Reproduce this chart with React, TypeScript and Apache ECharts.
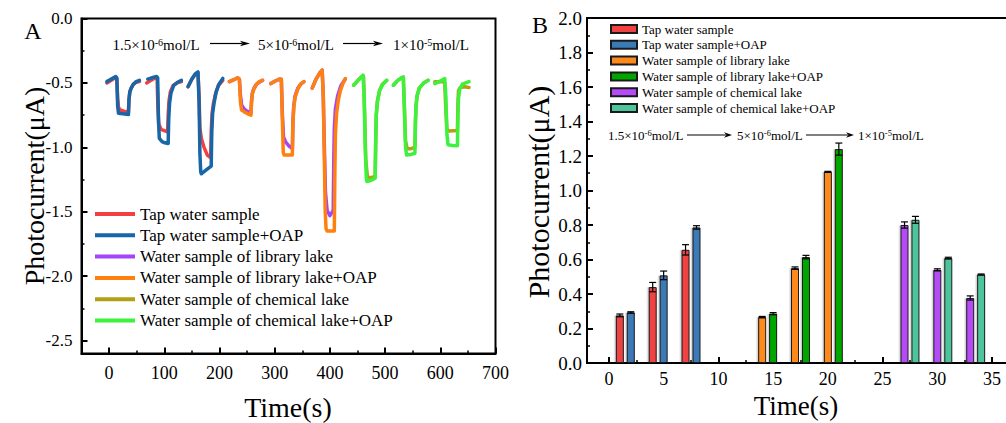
import React, { useEffect, useRef } from "react";
import * as echarts from "echarts";

const FONT = "Liberation Serif";

// ---------- Panel A: photocurrent transients ----------
const namesA = [
  "Tap water sample",
  "Tap water sample+OAP",
  "Water sample of library lake",
  "Water sample of library lake+OAP",
  "Water sample of chemical lake",
  "Water sample of chemical lake+OAP",
];
const colorsA = ["#F23F3F", "#1766A8", "#A445F7", "#FF7F0F", "#B3A115", "#3CF23C"];

const tapWater = [
  [[-4, -0.5], [4, -0.48], [11, -0.46], [14, -0.47], [15.5, -0.62], [17, -0.69], [20, -0.71], [27, -0.72], [35, -0.73], [36, -0.63], [37.5, -0.57], [40, -0.54], [44, -0.51], [49, -0.495], [55, -0.49]],
  [[68, -0.5], [76, -0.48], [84, -0.46], [87, -0.47], [88.5, -0.7], [90, -0.82], [94, -0.86], [100, -0.87], [106, -0.88], [107, -0.75], [108.5, -0.64], [111, -0.57], [116, -0.52], [123, -0.5], [131, -0.49]],
  [[143, -0.53], [150, -0.47], [157, -0.43], [161, -0.42], [163, -0.6], [164.5, -0.85], [167, -0.93], [172, -1.0], [178, -1.06], [184, -1.08], [185, -0.88], [186.5, -0.74], [189, -0.66], [193, -0.58], [198, -0.52], [206, -0.48]],
];
const tapWaterOAP = [
  [[-4, -0.49], [4, -0.47], [12, -0.45], [14, -0.46], [15.5, -0.68], [17, -0.735], [25, -0.74], [35, -0.745], [36, -0.63], [37.5, -0.57], [40, -0.54], [44, -0.51], [49, -0.49], [55, -0.48]],
  [[70, -0.47], [78, -0.46], [86, -0.45], [88, -0.46], [89.5, -0.8], [91, -0.93], [96, -0.955], [101, -0.965], [107, -0.97], [108, -0.78], [109.5, -0.66], [112, -0.58], [117, -0.52], [124, -0.495], [131, -0.48]],
  [[143, -0.53], [150, -0.47], [156, -0.43], [161, -0.415], [163, -0.65], [164.5, -1.05], [166, -1.19], [167, -1.205], [176, -1.175], [185, -1.145], [186, -0.88], [187.5, -0.74], [190, -0.66], [194, -0.57], [199, -0.51], [206, -0.465]],
];
const libraryLake = [
  [[218, -0.49], [226, -0.475], [233, -0.46], [236, -0.47], [238, -0.6], [240, -0.67], [244, -0.7], [250, -0.72], [257, -0.73], [258, -0.64], [259.5, -0.58], [262, -0.545], [267, -0.51], [272, -0.495], [278, -0.48]],
  [[293, -0.505], [301, -0.485], [309, -0.47], [312, -0.475], [314, -0.75], [316, -0.92], [320, -0.96], [326, -0.99], [332, -1.01], [333, -0.8], [334.5, -0.68], [337, -0.6], [342, -0.54], [347, -0.51], [353, -0.49]],
  [[368, -0.54], [375, -0.47], [382, -0.42], [386, -0.4], [388, -0.6], [390, -1.0], [392, -1.35], [395, -1.49], [400, -1.53], [406, -1.49], [407, -1.1], [408, -0.85], [410, -0.7], [414, -0.6], [420, -0.52], [428, -0.47]],
];
const libraryLakeOAP = [
  [[218, -0.49], [226, -0.475], [233, -0.46], [236, -0.47], [238, -0.65], [240, -0.71], [245, -0.725], [251, -0.74], [257, -0.75], [258, -0.65], [259.5, -0.585], [262, -0.55], [267, -0.51], [272, -0.49], [278, -0.48]],
  [[293, -0.505], [301, -0.485], [309, -0.47], [312, -0.47], [314, -0.8], [315.5, -1.04], [317, -1.06], [332, -1.06], [333, -0.82], [334.5, -0.69], [337, -0.61], [342, -0.545], [347, -0.51], [353, -0.49]],
  [[368, -0.54], [375, -0.47], [382, -0.42], [386, -0.4], [388, -0.6], [390, -1.1], [391.5, -1.5], [393, -1.63], [395, -1.65], [408, -1.65], [409, -1.2], [410, -0.9], [412, -0.74], [415, -0.64], [419, -0.56], [424, -0.5], [428, -0.466]],
];
const chemicalLake = [
  [[443, -0.518], [451, -0.48], [458, -0.45], [461, -0.45], [463, -0.75], [465, -1.1], [468, -1.23], [474, -1.235], [482, -1.225], [483, -0.95], [484, -0.75], [486, -0.64], [490, -0.56], [495, -0.51], [503, -0.48]],
  [[515, -0.518], [523, -0.48], [530, -0.46], [533, -0.455], [535, -0.7], [537, -0.95], [540, -1.01], [547, -1.01], [554, -1.0], [555, -0.8], [556, -0.68], [558, -0.6], [562, -0.54], [570, -0.5], [578, -0.48]],
  [[590, -0.49], [598, -0.49], [606, -0.49], [608, -0.5], [610, -0.7], [612, -0.86], [616, -0.873], [624, -0.871], [631, -0.87], [632, -0.65], [633, -0.56], [636, -0.535], [644, -0.53], [652, -0.535]],
];
const chemicalLakeOAP = [
  [[443, -0.518], [451, -0.48], [458, -0.45], [460, -0.44], [462, -0.6], [464, -1.0], [466, -1.24], [467, -1.265], [475, -1.255], [482, -1.24], [483, -0.95], [484, -0.75], [486, -0.65], [490, -0.56], [496, -0.51], [503, -0.48]],
  [[515, -0.518], [523, -0.48], [530, -0.46], [533, -0.454], [535, -0.7], [537, -1.0], [539, -1.06], [547, -1.055], [554, -1.046], [555, -0.8], [556, -0.68], [558, -0.6], [562, -0.54], [570, -0.5], [578, -0.48]],
  [[590, -0.505], [598, -0.49], [604, -0.475], [608, -0.466], [610, -0.6], [612, -0.9], [614, -0.98], [622, -0.985], [631, -0.987], [632, -0.75], [633, -0.62], [635, -0.55], [640, -0.51], [646, -0.5], [652, -0.49]],
];
const dataA = [tapWater, tapWaterOAP, libraryLake, libraryLakeOAP, chemicalLake, chemicalLakeOAP];

const xTicksA = [0, 100, 200, 300, 400, 500, 600, 700];
const xMinorA = [50, 150, 250, 350, 450, 550, 650];
const yTicksA = [0, -0.5, -1.0, -1.5, -2.0, -2.5];
const yMinorA = [-0.25, -0.75, -1.25, -1.75, -2.25];

// ---------- Panel B: bar chart ----------
const namesB = namesA;
const colorsB = ["#F04242", "#3A7AB7", "#FF8A1C", "#00A600", "#B54BF7", "#4DC49B"];
const positionsB = [
  [1, 4, 7],
  [2, 5, 8],
  [14, 17, 20],
  [15, 18, 21],
  [27, 30, 33],
  [28, 31, 34],
];
const valuesB = [
  [0.276, 0.44, 0.656],
  [0.293, 0.508, 0.786],
  [0.266, 0.55, 1.108],
  [0.286, 0.614, 1.24],
  [0.8, 0.54, 0.377],
  [0.83, 0.608, 0.513],
];
const errorsB = [
  [0.008, 0.027, 0.03],
  [0.004, 0.025, 0.01],
  [0.004, 0.007, 0.003],
  [0.006, 0.01, 0.035],
  [0.018, 0.006, 0.012],
  [0.02, 0.005, 0.003],
];
const xTicksB = [0, 5, 10, 15, 20, 25, 30, 35];
const xMinorB = [2.5, 7.5, 12.5, 17.5, 22.5, 27.5, 32.5];

// ---------- helpers ----------
const txt = (x: number, y: number, text: string, size: number, extra: any = {}) => ({
  type: "text",
  x,
  y,
  silent: true,
  ...extra,
  style: {
    text,
    fontSize: size,
    fontFamily: FONT,
    fill: "#000",
    align: "center",
    verticalAlign: "middle",
    textAlign: "center",
    textVerticalAlign: "middle",
    ...(extra.style || {}),
  },
});

const conc = (x: number, y: number, base: string, sup: string, size: number, supSize: number) => ({
  type: "text",
  x,
  y,
  silent: true,
  style: {
    text: base + "{s|" + sup + "}mol/L",
    fontSize: size,
    fontFamily: FONT,
    fill: "#000",
    align: "left",
    verticalAlign: "middle",
    textAlign: "left",
    textVerticalAlign: "middle",
    rich: {
      s: { fontSize: supSize, fontFamily: FONT, fill: "#000", verticalAlign: "top" },
    },
  },
});

const arrow = (x1: number, x2: number, y: number, head: number) => [
  { type: "line", silent: true, shape: { x1, y1: y, x2: x2 - head + 2, y2: y }, style: { stroke: "#000", lineWidth: 1.2 } },
  {
    type: "polygon",
    silent: true,
    shape: { points: [[x2, y], [x2 - head, y - 2.8], [x2 - head + 2.5, y], [x2 - head, y + 2.8]] },
    style: { fill: "#000" },
  },
];

const axisBase = (extra: any) => ({
  type: "value",
  splitLine: { show: false },
  ...extra,
});

function buildOptionA(): any {
  const series: any[] = [];
  namesA.forEach((name, i) => {
    dataA[i].forEach((pulse) => {
      series.push({
        type: "line",
        name,
        data: pulse,
        xAxisIndex: 0,
        yAxisIndex: 0,
        symbol: "none",
        showSymbol: false,
        silent: true,
        lineStyle: { width: 3.5, color: colorsA[i], cap: "round", join: "round" },
        itemStyle: { color: colorsA[i] },
      });
    });
  });
  return {
    animation: false,
    grid: { left: 81.5, top: 18.5, width: 414, height: 335, show: true, borderColor: "#000", borderWidth: 2 },
    xAxis: [
      axisBase({
        min: -50,
        max: 700,
        position: "bottom",
        axisLine: { show: true, onZero: false, lineStyle: { color: "#000", width: 2 } },
        axisTick: { show: true, inside: true, length: 6, customValues: xTicksA, lineStyle: { color: "#000", width: 2 } },
        axisLabel: { customValues: xTicksA, fontSize: 18, fontFamily: FONT, color: "#000", margin: 10 },
      }),
      axisBase({
        min: -50,
        max: 700,
        position: "bottom",
        axisLine: { show: false, onZero: false },
        axisTick: { show: true, inside: true, length: 3, customValues: xMinorA, lineStyle: { color: "#000", width: 1.5 } },
        axisLabel: { show: false },
      }),
    ],
    yAxis: [
      axisBase({
        min: -2.6,
        max: 0,
        position: "left",
        axisLine: { show: true, onZero: false, lineStyle: { color: "#000", width: 2 } },
        axisTick: { show: true, inside: true, length: 6, customValues: yTicksA, lineStyle: { color: "#000", width: 2 } },
        axisLabel: {
          customValues: yTicksA,
          formatter: (v: number) => v.toFixed(1),
          fontSize: 17,
          fontFamily: FONT,
          color: "#000",
          margin: 9,
        },
      }),
      axisBase({
        min: -2.6,
        max: 0,
        position: "left",
        axisLine: { show: false, onZero: false },
        axisTick: { show: true, inside: true, length: 3, customValues: yMinorA, lineStyle: { color: "#000", width: 1.5 } },
        axisLabel: { show: false },
      }),
    ],
    legend: {
      orient: "vertical",
      left: 95,
      top: 205,
      padding: 0,
      itemWidth: 40,
      itemHeight: 4,
      itemGap: 3.3,
      icon: "rect",
      selectedMode: false,
      data: namesA,
      textStyle: { fontFamily: FONT, fontSize: 17, color: "#000", lineHeight: 18 },
    },
    graphic: [
      txt(33, 31, "A", 24),
      txt(34, 186, "Photocurrent(μA)", 28, { rotation: Math.PI / 2 }),
      txt(288, 407, "Time(s)", 28),
      conc(112.5, 45, "1.5×10", "-6", 15, 10),
      ...arrow(210, 250, 43.5, 10),
      conc(258, 45, "5×10", "-6", 15, 10),
      ...arrow(343, 383, 43.5, 10),
      conc(393, 45, "1×10", "-5", 15, 10),
    ],
    series,
  };
}

function buildOptionB(): any {
  const series: any[] = namesB.map((name, i) => ({
    type: "bar",
    name,
    data: positionsB[i].map((x, j) => [x, valuesB[i][j]]),
    barWidth: 8,
    barGap: "-100%",
    silent: true,
    itemStyle: {
      color: colorsB[i],
      borderColor: "#1a1a1a",
      borderWidth: 1,
      shadowColor: "rgba(0,0,0,0.18)",
      shadowOffsetX: -1.5,
      shadowBlur: 0,
    },
  }));
  const errData: number[][] = [];
  positionsB.forEach((xs, i) => xs.forEach((x, j) => errData.push([x, valuesB[i][j], errorsB[i][j]])));
  series.push({
    type: "custom",
    name: "err",
    silent: true,
    z: 5,
    data: errData,
    encode: { x: 0, y: 1 },
    renderItem: (params: any, api: any) => {
      const x = api.value(0);
      const y = api.value(1);
      const e = api.value(2);
      const top = api.coord([x, y + e]);
      const bot = api.coord([x, y - e]);
      const hw = 3.5;
      const st = { stroke: "#000", lineWidth: 1.2 };
      return {
        type: "group",
        children: [
          { type: "line", shape: { x1: top[0], y1: top[1], x2: bot[0], y2: bot[1] }, style: st },
          { type: "line", shape: { x1: top[0] - hw, y1: top[1], x2: top[0] + hw, y2: top[1] }, style: st },
          { type: "line", shape: { x1: bot[0] - hw, y1: bot[1], x2: bot[0] + hw, y2: bot[1] }, style: st },
        ],
      };
    },
  });
  const o = -503;
  return {
    animation: false,
    grid: { left: 84, top: 18, width: 427, height: 345, show: true, borderColor: "#000", borderWidth: 2 },
    xAxis: [
      axisBase({
        min: -2,
        max: 37,
        position: "bottom",
        axisLine: { show: true, onZero: false, lineStyle: { color: "#000", width: 2 } },
        axisTick: { show: true, inside: true, length: 6, customValues: xTicksB, lineStyle: { color: "#000", width: 2 } },
        axisLabel: { customValues: xTicksB, fontSize: 18, fontFamily: FONT, color: "#000", margin: 7 },
      }),
      axisBase({
        min: -2,
        max: 37,
        position: "bottom",
        axisLine: { show: false, onZero: false },
        axisTick: { show: true, inside: true, length: 3, customValues: xMinorB, lineStyle: { color: "#000", width: 1.5 } },
        axisLabel: { show: false },
      }),
    ],
    yAxis: [
      axisBase({
        min: 0,
        max: 2,
        interval: 0.2,
        position: "left",
        axisLine: { show: true, onZero: false, lineStyle: { color: "#000", width: 2 } },
        axisTick: { show: true, inside: true, length: 6, lineStyle: { color: "#000", width: 2 } },
        minorTick: { show: true, splitNumber: 2, length: 3, lineStyle: { color: "#000", width: 1.5 } },
        minorSplitLine: { show: false },
        axisLabel: {
          formatter: (v: number) => v.toFixed(1),
          fontSize: 19,
          fontFamily: FONT,
          color: "#000",
          margin: 5,
        },
      }),
    ],
    legend: {
      orient: "vertical",
      left: 107,
      top: 22,
      padding: 0,
      itemWidth: 26,
      itemHeight: 8,
      itemGap: 1.8,
      icon: "rect",
      selectedMode: false,
      data: namesB,
      textStyle: { fontFamily: FONT, fontSize: 13, color: "#000", lineHeight: 14 },
    },
    graphic: [
      txt(540 + o, 25, "B", 24),
      txt(538 + o, 192, "Photocurrent(μA)", 30, { rotation: Math.PI / 2 }),
      txt(796 + o, 406, "Time(s)", 27),
      conc(608 + o, 135, "1.5×10", "-6", 13, 8.5),
      ...arrow(687 + o, 732 + o, 135, 8),
      conc(737 + o, 135, "5×10", "-6", 13, 8.5),
      ...arrow(806 + o, 854 + o, 135, 8),
      conc(858 + o, 135, "1×10", "-5", 13, 8.5),
    ],
    series,
  };
}

export default function App() {
  const refA = useRef<HTMLDivElement>(null);
  const refB = useRef<HTMLDivElement>(null);
  useEffect(() => {
    const a = echarts.init(refA.current as HTMLDivElement, undefined, { renderer: "svg" });
    const b = echarts.init(refB.current as HTMLDivElement, undefined, { renderer: "svg" });
    a.setOption(buildOptionA());
    b.setOption(buildOptionB());
    return () => {
      a.dispose();
      b.dispose();
    };
  }, []);
  return (
    <div
      style={{
        position: "absolute",
        left: 0,
        top: 0,
        width: 1006,
        height: 423,
        overflow: "hidden",
        background: "#fff",
      }}
    >
      <div ref={refA} style={{ position: "absolute", left: 0, top: 0, width: 530, height: 423 }} />
      <div ref={refB} style={{ position: "absolute", left: 503, top: 0, width: 530, height: 423 }} />
    </div>
  );
}
